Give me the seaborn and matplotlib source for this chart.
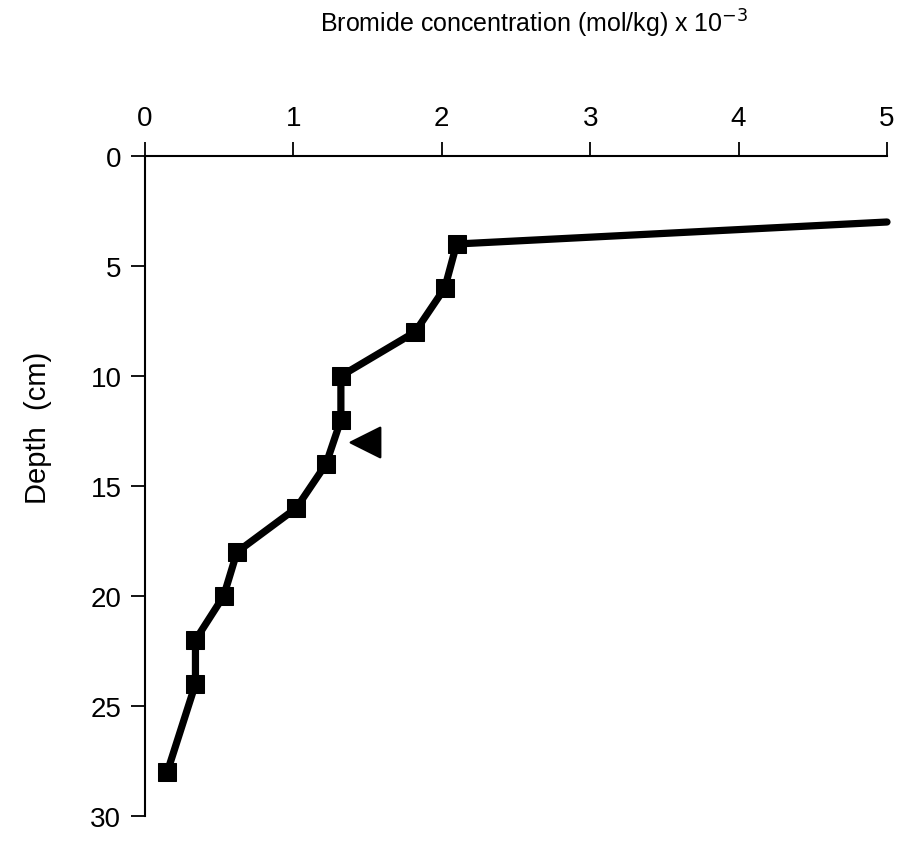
import matplotlib
matplotlib.use("Agg")
import matplotlib.pyplot as plt
import seaborn as sns
import pandas as pd

# Data
concentration = [5.0, 2.10, 2.02, 1.82, 1.32, 1.32, 1.22, 1.02, 0.62, 0.53, 0.34, 0.34, 0.15]
depth = [3.0, 4, 6, 8, 10, 12, 14, 16, 18, 20, 22, 24, 28]
arrow_x = [1.48]
arrow_depth = [13.0]
x_ticks = [0, 1, 2, 3, 4, 5]
y_ticks = [0, 5, 10, 15, 20, 25, 30]

sns.set_theme(style="white")
plt.rcParams['font.family'] = ['Liberation Sans', 'DejaVu Sans']

fig = plt.figure(figsize=(9.04, 8.45), dpi=100)
ax = fig.add_axes([145/904, 1-817/845, (887-145)/904, (817-157)/845])

df = pd.DataFrame({"conc": concentration, "depth": depth})
sns.lineplot(data=df, x="conc", y="depth", sort=False, estimator=None, ax=ax,
             color="black", lw=5.2, marker="s", markersize=12.5, markeredgecolor="black",
             markevery=list(range(1, len(depth))), clip_on=False, zorder=3)
sns.scatterplot(x=arrow_x, y=arrow_depth, marker="<", s=450, color="black", ax=ax,
                edgecolor="black", zorder=4)

ax.set_xlim(0, 5)
ax.set_ylim(30, 0)
ax.xaxis.tick_top()
ax.set_xticks(x_ticks)
ax.set_yticks(y_ticks)
ax.set_xticklabels([str(t) for t in x_ticks])
ax.set_yticklabels([str(t) for t in y_ticks])
ax.tick_params(axis="x", top=True, bottom=False, direction="out", length=10, width=1.3,
               labelsize=20, pad=8, colors="black")
ax.tick_params(axis="y", left=True, direction="out", length=10, width=1.3,
               labelsize=20, pad=7, colors="black")
ax.set_xlabel("")
ax.set_ylabel("")
for side in ["right", "bottom"]:
    ax.spines[side].set_visible(False)
for side in ["top", "left"]:
    ax.spines[side].set_color("black")
    ax.spines[side].set_linewidth(1.5)
ax.grid(False)

fig.text(534/904, 1-24/845, r"Bromide concentration (mol/kg) x 10$^{-3}$",
         ha="center", va="center", fontsize=18, color="black")
fig.text(38/904, 1-428/845, "Depth  (cm)", rotation=90, ha="center", va="center",
         fontsize=21, color="black")

fig.savefig("out.png", dpi=100, facecolor="white")
